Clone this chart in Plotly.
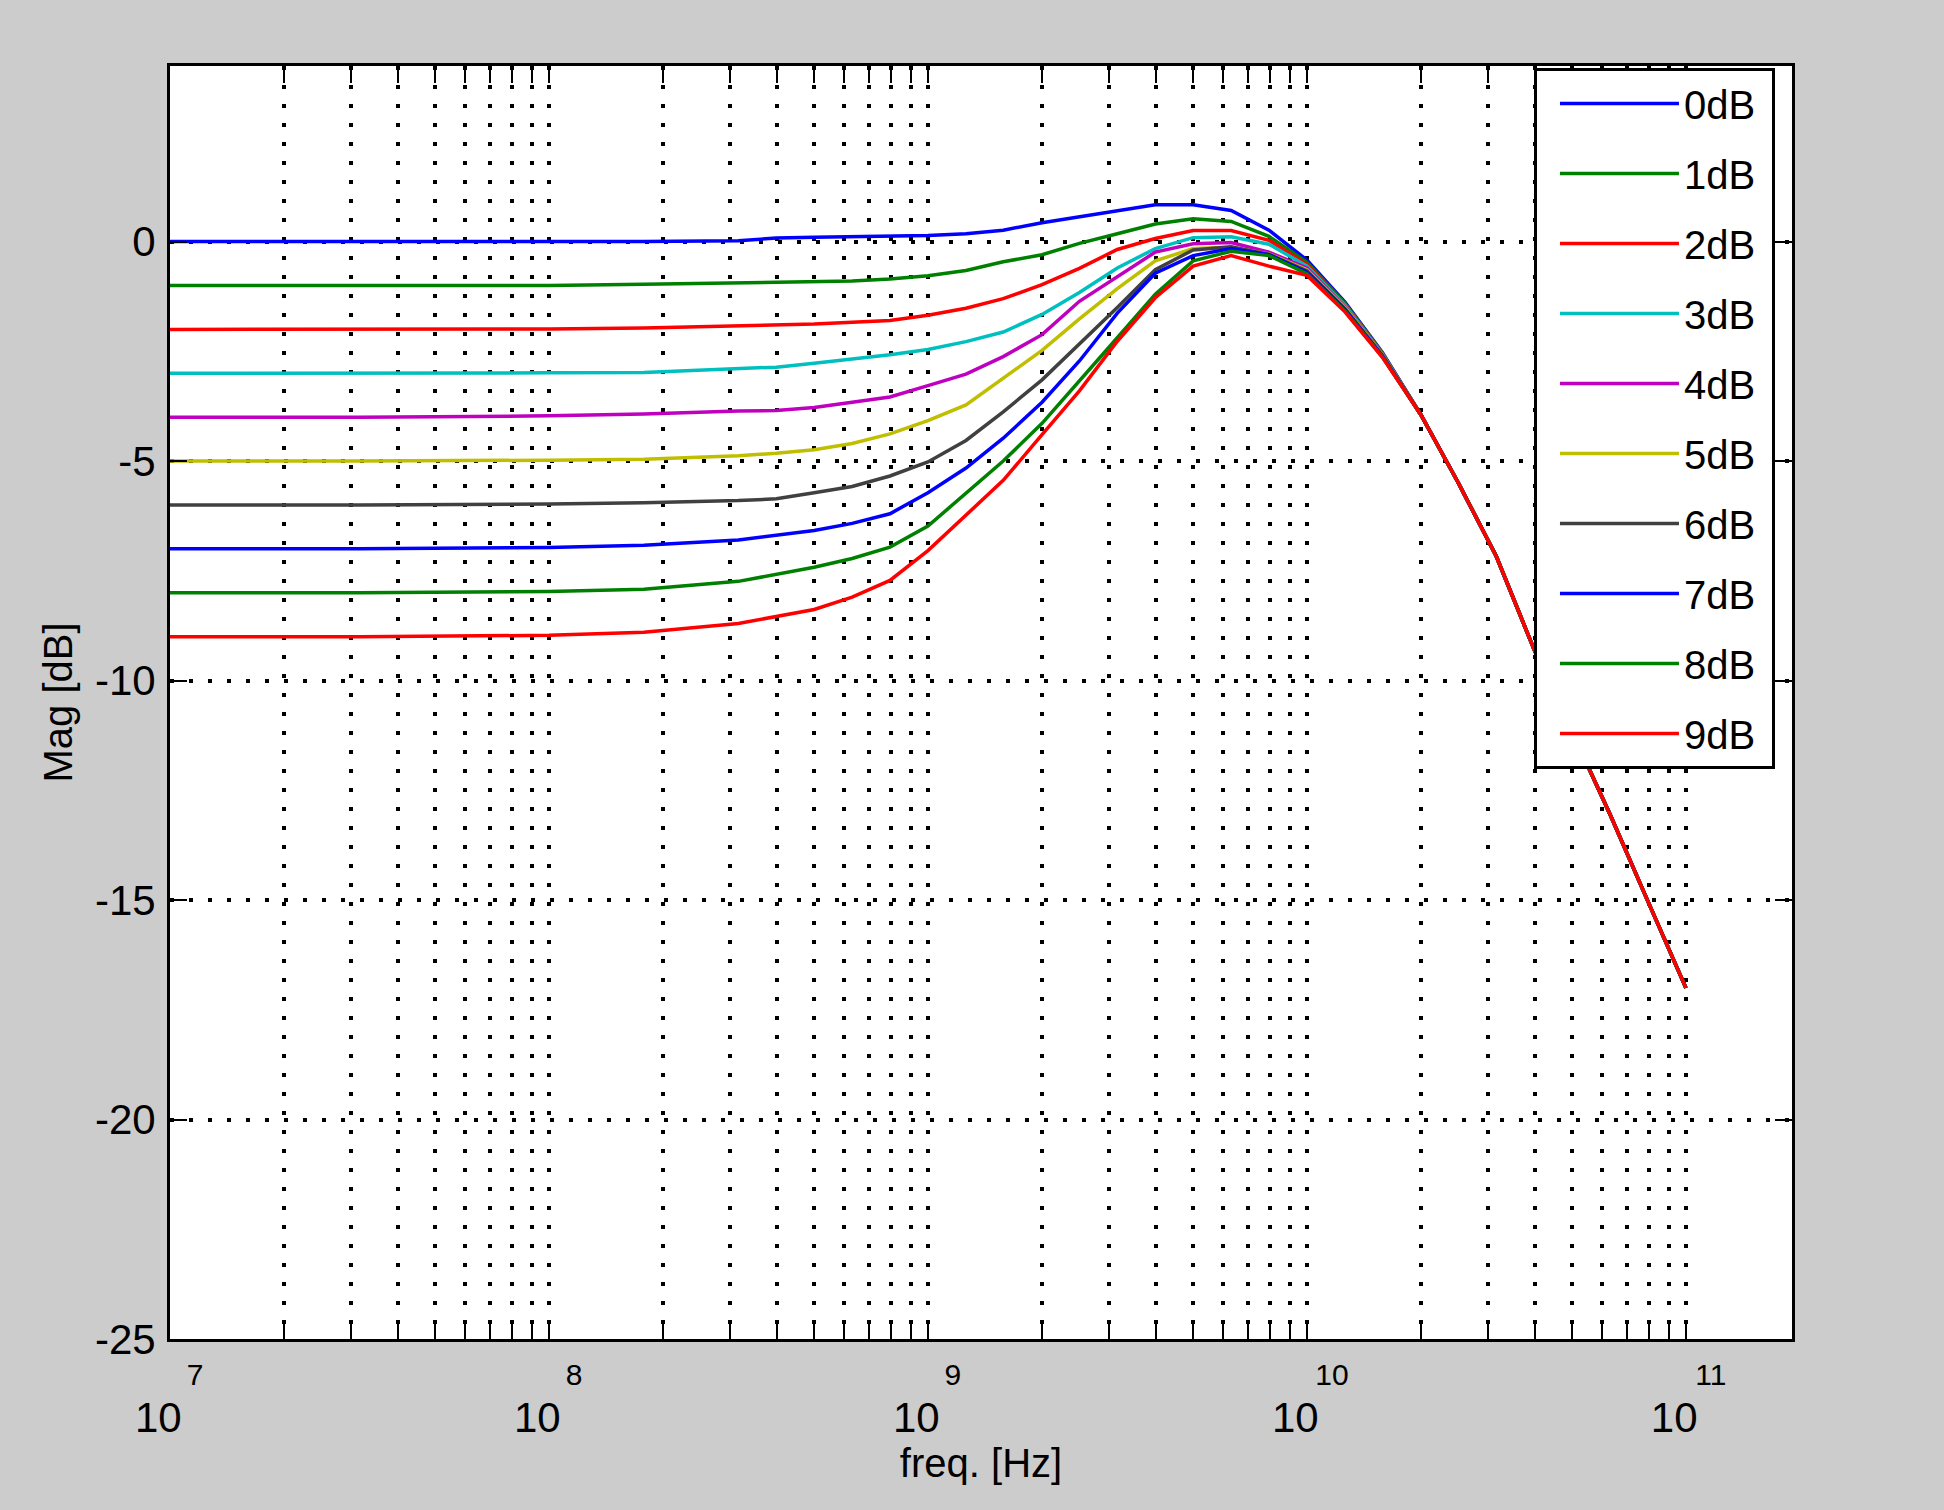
import plotly.graph_objects as go

# ---- data -------------------------------------------------------------------
freq_hz = [1e7, 3.16e7, 1e8, 1.78e8, 3.16e8, 3.98e8, 5.01e8, 6.31e8, 7.94e8,
           1e9, 1.26e9, 1.58e9, 2e9, 2.51e9, 3.16e9, 3.98e9, 5.01e9, 6.31e9, 7.94e9,
           1e10, 1.26e10, 1.58e10, 2e10, 2.51e10, 3.16e10, 3.98e10, 5.01e10,
           6.31e10, 7.94e10, 1e11]

# common high-frequency roll-off (all curves overlap from 2e10 on)
tail_db = [-3.95, -5.50, -7.17, -9.30, -11.17, -13.05, -15.03, -17.0]

mag_0dB = [0, 0, 0, 0, 0.02, 0.08, 0.10, 0.11, 0.12, 0.14, 0.18, 0.26, 0.43, 0.56,
           0.70, 0.84, 0.84, 0.71, 0.26, -0.42, -1.38, -2.52] + tail_db
mag_1dB = [-1, -1, -1, -0.97, -0.94, -0.93, -0.92, -0.90, -0.85, -0.78, -0.66, -0.46,
           -0.30, -0.04, 0.18, 0.40, 0.52, 0.46, 0.12, -0.47, -1.40, -2.53] + tail_db
mag_2dB = [-2, -2, -1.99, -1.97, -1.93, -1.91, -1.88, -1.84, -1.80, -1.68, -1.52, -1.30,
           -0.98, -0.61, -0.18, 0.07, 0.25, 0.25, 0.03, -0.52, -1.43, -2.55] + tail_db
mag_3dB = [-3, -3, -2.99, -2.98, -2.89, -2.86, -2.77, -2.68, -2.58, -2.46, -2.28, -2.06,
           -1.66, -1.16, -0.60, -0.16, 0.09, 0.11, -0.06, -0.56, -1.45, -2.56] + tail_db
mag_4dB = [-4, -4, -3.97, -3.93, -3.86, -3.85, -3.78, -3.66, -3.54, -3.28, -3.02, -2.62,
           -2.12, -1.36, -0.80, -0.24, -0.05, -0.02, -0.24, -0.60, -1.48, -2.57] + tail_db
mag_5dB = [-5, -5, -4.98, -4.96, -4.88, -4.82, -4.74, -4.60, -4.38, -4.08, -3.72, -3.12,
           -2.48, -1.76, -1.07, -0.44, -0.16, -0.13, -0.28, -0.64, -1.50, -2.58] + tail_db
mag_6dB = [-6, -6, -5.98, -5.95, -5.90, -5.86, -5.72, -5.58, -5.34, -5.02, -4.53, -3.88,
           -3.15, -2.34, -1.50, -0.64, -0.19, -0.12, -0.29, -0.67, -1.53, -2.59] + tail_db
mag_7dB = [-7, -7, -6.97, -6.92, -6.80, -6.70, -6.58, -6.42, -6.20, -5.72, -5.16, -4.48,
           -3.66, -2.72, -1.63, -0.72, -0.32, -0.16, -0.30, -0.70, -1.55, -2.60] + tail_db
mag_8dB = [-8, -8, -7.97, -7.92, -7.74, -7.58, -7.42, -7.22, -6.96, -6.48, -5.72, -5.00,
           -4.14, -3.18, -2.19, -1.20, -0.44, -0.22, -0.32, -0.73, -1.58, -2.62] + tail_db
mag_9dB = [-9, -9, -8.97, -8.90, -8.70, -8.54, -8.38, -8.10, -7.72, -7.04, -6.24, -5.44,
           -4.40, -3.40, -2.27, -1.28, -0.56, -0.32, -0.56, -0.77, -1.60, -2.63] + tail_db

series_names = ["0dB", "1dB", "2dB", "3dB", "4dB", "5dB", "6dB", "7dB", "8dB", "9dB"]
series_values = [mag_0dB, mag_1dB, mag_2dB, mag_3dB, mag_4dB,
                 mag_5dB, mag_6dB, mag_7dB, mag_8dB, mag_9dB]
series_colors = ["#0000ff", "#008000", "#ff0000", "#00bfbf", "#bf00bf",
                 "#bfbf00", "#404040", "#0000ff", "#008000", "#ff0000"]

x_major_ticks = [1e7, 1e8, 1e9, 1e10, 1e11]
x_exponents = ["7", "8", "9", "10", "11"]
x_minor_ticks = [2e7, 3e7, 4e7, 5e7, 6e7, 7e7, 8e7, 9e7,
                 2e8, 3e8, 4e8, 5e8, 6e8, 7e8, 8e8, 9e8,
                 2e9, 3e9, 4e9, 5e9, 6e9, 7e9, 8e9, 9e9,
                 2e10, 3e10, 4e10, 5e10, 6e10, 7e10, 8e10, 9e10]
y_ticks = [-25, -20, -15, -10, -5, 0]
y_ticklabels = ["-25", "-20", "-15", "-10", "-5", "0"]

# ---- figure -------------------------------------------------------------------
NB = "\u00a0"
x_ticktext = [f"<span style='font-size:30px'>{NB * 6}{e}</span><br>"
              f"<span style='font-size:42px'>10{NB * 2}</span>"
              for e in x_exponents]

FONT = "Liberation Sans, Arial, Helvetica, sans-serif"
DOT = "4px,15px"

fig = go.Figure()
for name, vals, color in zip(series_names, series_values, series_colors):
    fig.add_trace(go.Scatter(
        x=freq_hz, y=vals, mode="lines", name=name + NB, legendgroup=name,
        line=dict(color=color, width=3.5),
    ))

fig.update_layout(
    width=1944, height=1510,
    margin=dict(l=170, r=152, t=66, b=171),
    paper_bgcolor="#cccccc", plot_bgcolor="white",
    font=dict(family=FONT, color="black", size=40),
    showlegend=True,
    legend=dict(
        x=0.9895, y=0.9984, xanchor="right", yanchor="top",
        bgcolor="white", bordercolor="black", borderwidth=3,
        font=dict(family=FONT, size=40, color="black"),
        itemwidth=119, indentation=18, traceorder="grouped", tracegroupgap=15,
    ),
    xaxis=dict(
        type="log", range=[7, 11.28],
        tickmode="array", tickvals=x_major_ticks, ticktext=x_ticktext,
        ticks="inside", ticklen=17, tickwidth=2, tickcolor="black",
        tickfont=dict(family=FONT, size=36, color="black"),
        showline=True, linecolor="black", linewidth=3, mirror="allticks",
        showgrid=True, gridcolor="black", gridwidth=4, griddash=DOT,
        zeroline=False,
        minor=dict(tickmode="array", tickvals=x_minor_ticks, ticks="inside",
                   ticklen=17, tickwidth=2, tickcolor="black",
                   showgrid=True, gridcolor="black", gridwidth=4, griddash=DOT),
        title=dict(text="freq. [Hz]", font=dict(family=FONT, size=40, color="black"),
                   standoff=6),
    ),
    yaxis=dict(
        range=[-25, 4],
        tickmode="array", tickvals=y_ticks, ticktext=y_ticklabels,
        ticks="inside", ticklen=17, tickwidth=2, tickcolor="black",
        tickfont=dict(family=FONT, size=42, color="black"),
        ticklabelstandoff=3,
        showline=True, linecolor="black", linewidth=3, mirror="allticks",
        showgrid=True, gridcolor="black", gridwidth=4, griddash=DOT,
        zeroline=False,
        title=dict(text="Mag [dB]", font=dict(family=FONT, size=40, color="black"),
                   standoff=10),
    ),
)

fig.write_html("out.html", config={"displayModeBar": False})
